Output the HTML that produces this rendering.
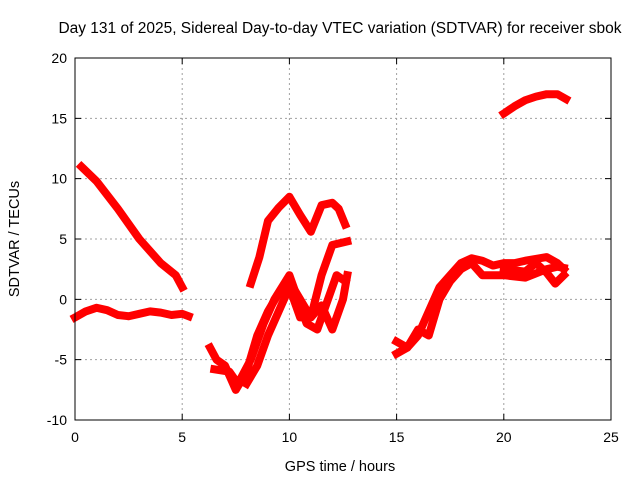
<!DOCTYPE html>
<html><head><meta charset="utf-8"><style>
body{margin:0;background:#fff}
svg{display:block;font-family:"Liberation Sans",sans-serif}
</style></head><body>
<svg id="c" width="640" height="480" viewBox="0 0 640 480">
<text x="340" y="33" text-anchor="middle" font-size="15.5">Day 131 of 2025, Sidereal Day-to-day VTEC variation (SDTVAR) for receiver sbok</text>
<text x="340" y="471" text-anchor="middle" font-size="14.5">GPS time / hours</text>
<text transform="translate(19,239) rotate(-90)" text-anchor="middle" font-size="14.5">SDTVAR / TECUs</text>
<g id="grid"></g>
<g id="ticks"></g>
<g id="series"></g>
<rect x="75" y="58" width="536" height="362" fill="none" stroke="#000" stroke-width="1"/>
</svg>
<script>
const xTicks=[0,5,10,15,20,25];
const yTicks=[-10,-5,0,5,10,15,20];
const sA=[[0.3,11],[1,9.8],[2,7.5],[3,5],[4,3],[4.7,2],[5,1]];
const sB=[[0,-1.5],[0.5,-1],[1,-0.7],[1.5,-0.9],[2,-1.3],[2.5,-1.4],[3,-1.2],[3.5,-1],[4,-1.1],[4.5,-1.3],[5,-1.2],[5.3,-1.4]];
const sC=[[8.2,1.3],[8.6,3.5],[9,6.5],[9.5,7.6],[10,8.5],[10.5,7],[11,5.6],[11.5,7.8],[12,8],[12.3,7.5],[12.6,6.2]];
const sD=[[6.3,-4],[6.6,-5],[7,-5.5],[7.5,-7.5],[8,-6],[8.5,-3],[9,-1],[9.5,0.5],[10,1.5],[10.5,0],[11,-1.5],[11.5,2],[12,4.5],[12.7,4.8]];
const sE=[[6.5,-5.8],[7.2,-6],[7.6,-7],[8.2,-5],[8.8,-2],[9.3,0],[10,2],[10.3,0.5],[10.8,-2],[11.3,-2.5],[11.8,0],[12.2,2],[12.6,1.5]];
const sF=[[8,-7],[8.5,-5.5],[9,-3],[9.5,-1],[10,1],[10.5,-1.5],[11,-1.5],[11.5,-0.5],[12,-2.5],[12.5,0],[12.7,2]];
const sG=[[15,-3.5],[15.5,-4],[16,-3],[16.5,-1],[17,1],[17.5,2],[18,3],[18.5,3.4],[19,3.2],[19.5,2.8],[20,3],[20.5,3],[21,3.2],[22,3.5],[22.5,3],[22.8,2.5]];
const sH=[[15,-4.5],[15.5,-4],[16,-2.5],[16.5,-3],[17,0],[17.5,1.5],[18,2.5],[18.5,3],[19,2],[20,2],[21,1.8],[22,2.5],[22.5,2.7],[22.8,2.6]];
const sI=[[20,2.5],[21,2.3],[21.5,3],[22,2.2],[22.4,1.3],[22.8,2]];
const sJ=[[20,15.4],[20.5,16],[21,16.5],[21.5,16.8],[22,17],[22.5,17],[22.9,16.6]];
const allSeries=[sA,sB,sC,sD,sE,sF,sG,sH,sI,sJ];
const X0=75,X1=611,Y0=420,Y1=58;
const xs=t=>X0+(t-0)/(25-0)*(X1-X0);
const ys=v=>Y0-(v+10)/(30)*(Y0-Y1);
const NS="http://www.w3.org/2000/svg";
const grid=document.getElementById('grid'),ticks=document.getElementById('ticks'),ser=document.getElementById('series');
function mk(tag,attrs,parent){const e=document.createElementNS(NS,tag);for(const k in attrs)e.setAttribute(k,attrs[k]);parent.appendChild(e);return e;}
xTicks.forEach(t=>{const x=xs(t);
 if(t>0&&t<25){const g=mk('line',{x1:x,x2:x,y1:Y1,y2:Y0,stroke:'#a0a0a0','stroke-dasharray':'2,3'},grid);
 
 }
 const tk=mk('path',{d:`M${x},${Y0}v-6M${x},${Y1}v6`,stroke:'#000'},ticks);
 
 
 const l=mk('text',{x:x,y:Y0+22,'text-anchor':'middle','font-size':'14'},ticks);l.textContent=t;
 
 
});
yTicks.forEach(v=>{const y=ys(v);
 if(v>-10&&v<20){const g=mk('line',{x1:X0,x2:X1,y1:y,y2:y,stroke:'#a0a0a0','stroke-dasharray':'2,3'},grid);
 
 }
 const tk=mk('path',{d:`M${X0},${y}h6M${X1},${y}h-6`,stroke:'#000'},ticks);
 
 
 const l=mk('text',{x:X0-8,y:y+5,'text-anchor':'end','font-size':'14'},ticks);l.textContent=v;
 
 
});
allSeries.forEach((s,i)=>{
 const p=mk('polyline',{points:s.map(d=>xs(d[0])+','+ys(d[1])).join(' '),fill:'none',stroke:'#f00','stroke-width':'8','stroke-linejoin':'round','stroke-linecap':'square'},ser);
 
 
});
</script>
</body></html>
